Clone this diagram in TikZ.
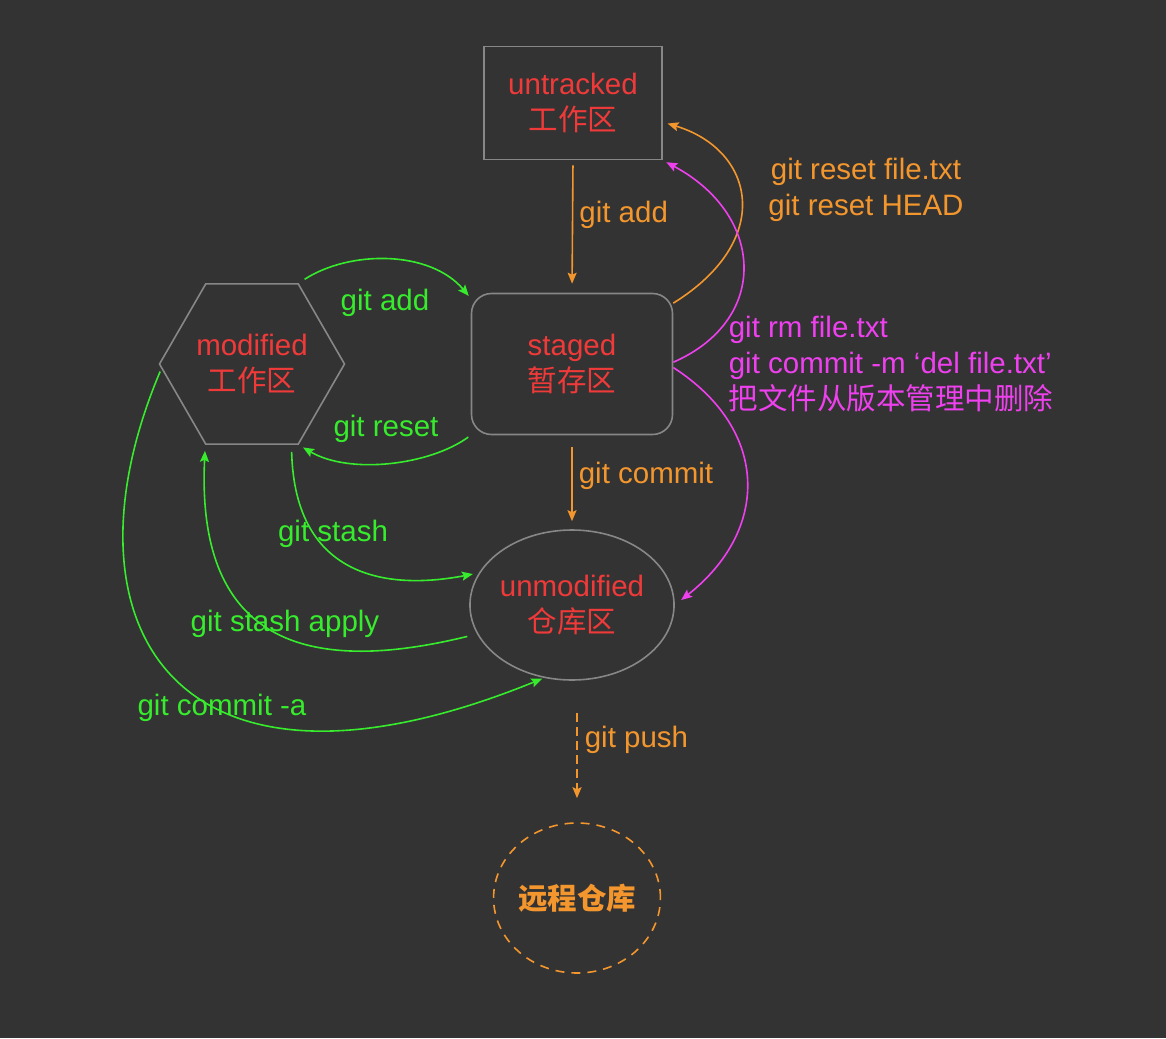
\documentclass[tikz,border=0pt]{standalone}
\usepackage{fontspec}
\setmainfont{Liberation Sans}
\newfontfamily\cjk{Noto Sans CJK SC}
\usetikzlibrary{arrows.meta,shapes.geometric}
\definecolor{bg}{RGB}{51,51,51}
\definecolor{gitred}{RGB}{240,58,58}
\definecolor{gitorange}{RGB}{243,150,45}
\definecolor{gitgreen}{RGB}{55,235,45}
\definecolor{gitpink}{RGB}{238,64,238}
\definecolor{boxgray}{RGB}{135,135,135}

\begin{document}
\begin{tikzpicture}[x=1pt,y=-1pt,line width=1.6pt,
      every node/.style={inner sep=0pt,font=\fontsize{29.5}{36}\selectfont},
      area/.style={draw=boxgray,text=gitred,align=center},
      >={Stealth[length=11pt,width=9pt,inset=2pt]}]
      \fill[bg](0,0)rectangle(1166,1038);
      \useasboundingbox(0,0)rectangle(1166,1038);
      % the five areas
      \node[area,minimum width=178pt,minimum height=113pt](u)at(573,103){untracked\\{\cjk 工作区}};
      \node[area,rounded corners=20pt,minimum width=201pt,minimum height=141pt](s)at(572,364){staged\\{\cjk 暂存区}};
      \node[area,regular polygon,regular polygon sides=6,minimum size=185pt](h)at(252,364){modified\\{\cjk 工作区}};
      \node[area,ellipse,minimum width=201pt,minimum height=150pt](m)at(572,605){unmodified\\{\cjk 仓库区}};
      \node[draw=gitorange,dash pattern=on 9pt off 7pt,ellipse,minimum width=166pt,minimum height=150pt,
         text=gitorange](r)at(577,898){\cjk\bfseries 远程仓库};
      % orange commands
      \draw[->,gitorange,shorten <=5pt,shorten >=9pt](u.south)--node[right=6pt,pos=.41](ladd){git add}(s.north);
      \draw[->,gitorange,shorten <=12pt,shorten >=8pt](s.south)--node[right=6pt,pos=.43](lcommit){git commit}(m.north);
      \draw[->,gitorange,dash pattern=on 9pt off 5pt,shorten <=32pt,shorten >=24pt](m.south -| r.north)
         --node[right=7pt,pos=.42](lpush){git push}(r.north);
      \draw[->,gitorange,shorten >=5pt](s.31)..controls(775,240)and(755,150)..(u.-12);
      \node[text=gitorange,align=center](lreset)at(866,190){git reset file.txt\\git reset HEAD};
      % pink commands
      \draw[->,gitpink,shorten >=4pt](s.1)..controls(770,320)and(765,215)..(u.south east);
      \draw[->,gitpink,shorten >=8pt](s.-2)..controls(770,430)and(770,530)..(m.east);
      \node[text=gitpink,align=left,anchor=west](lrm)at(728,364){git rm file.txt\\git commit -m ‘del file.txt’\\{\cjk 把文件从版本管理中删除}};
      % green commands
      \draw[->,gitgreen,shorten <=7pt,shorten >=3pt](h.60)..controls(350,250)and(430,250)..(s.147);
      \draw[->,gitgreen,shorten <=3pt,shorten >=5pt](s.south west)..controls(430,465)and(350,475)..(h.-60);
      \draw[->,gitgreen,shorten <=7pt,shorten >=6pt](h.-64)..controls(295,580)and(390,590)..(m.161);
      \draw[->,gitgreen,shorten <=10pt,shorten >=6pt](m.197)..controls(330,670)and(195,660)..(h.-120);
      \draw[->,gitgreen,shorten <=3pt,shorten >=2pt](h.183)..controls(55,620)and(170,830)..(m.-111);
      \node[text=gitgreen](lgadd)at(385,303){git add};
      \node[text=gitgreen](lgreset)at(386,429){git reset};
      \node[text=gitgreen](lgstash)at(333,534){git stash};
      \node[text=gitgreen](lgapply)at(285,624){git stash apply};
      \node[text=gitgreen](lgcommit)at(222,708){git commit -a};
    \end{tikzpicture}
\end{document}
